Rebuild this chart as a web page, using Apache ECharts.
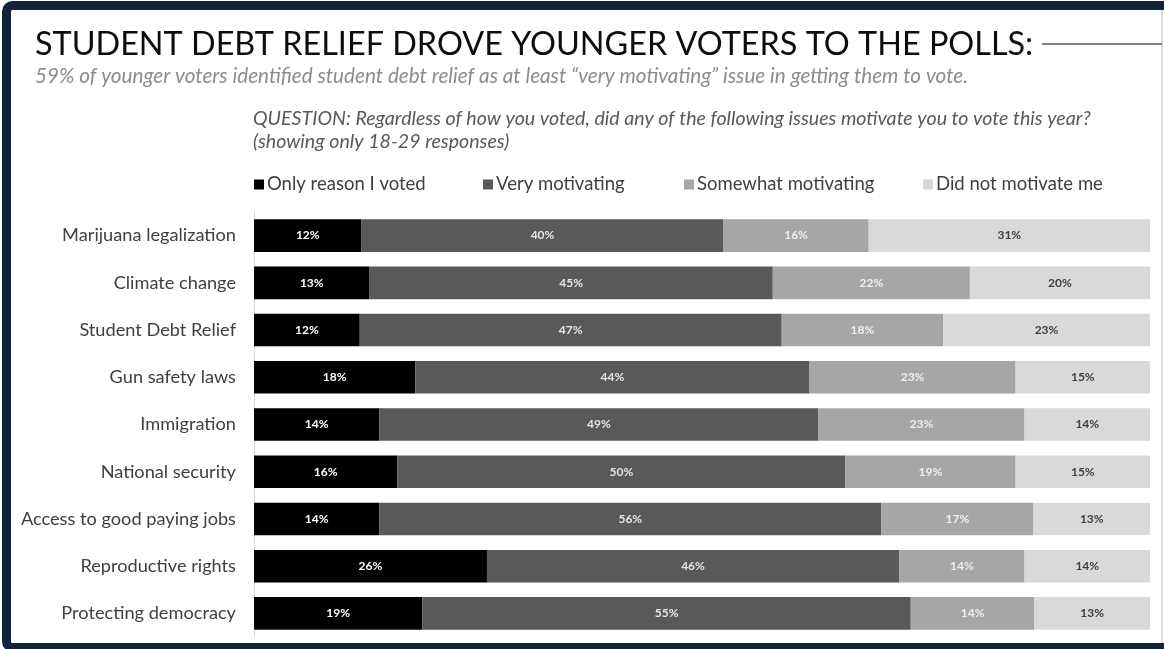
<!DOCTYPE html>
<html><head><meta charset="utf-8">
<script src="https://cdn.jsdelivr.net/npm/echarts@6/dist/echarts.min.js"></script>
<style>html,body{margin:0;padding:0;background:#fff}#c{width:1164px;height:649px}</style>
</head><body><div id="c"></div>
<script>
const categories = ["Marijuana legalization","Climate change","Student Debt Relief","Gun safety laws","Immigration","National security","Access to good paying jobs","Reproductive rights","Protecting democracy"];
const seriesNames = ["Only reason I voted","Very motivating","Somewhat motivating","Did not motivate me"];
const onlyReason   = [12.0, 12.9, 11.8, 18.0, 14.0, 16.0, 14.0, 26.0, 18.8];
const veryMotiv    = [40.4, 45.0, 47.1, 44.0, 49.0, 50.0, 56.0, 46.0, 54.5];
const somewhatMot  = [16.2, 22.0, 18.0, 23.0, 23.0, 19.0, 17.0, 14.0, 13.8];
const notMotivate  = [31.4, 20.1, 23.1, 15.0, 14.0, 15.0, 13.0, 14.0, 12.9];

const FONT = 'Lato';
const colors = ['#000000','#595959','#a6a6a6','#d9d9d9'];
const labelColors = ['#ffffff','#e6e6e6','#eeeeee','#3f3f3f'];
const seriesData = [onlyReason, veryMotiv, somewhatMot, notMotivate];

const chart = echarts.init(document.getElementById('c'), null, {renderer:'canvas'});

const legendLefts = [249, 478, 679, 918];
const legends = seriesNames.map((n,i)=>({
  data:[n], left: legendLefts[i], top: 170, icon:'rect', itemWidth:10, itemHeight:10, itemGap:4,
  selectedMode:false,
  textStyle:{fontFamily:FONT, fontSize:18.5, color:'#404040', padding:[0,0,0,-2]}
}));

chart.setOption({
  animation:false,
  backgroundColor:'#ffffff',
  legend: legends,
  grid:{left:254, right:14, top:212, bottom:12, containLabel:false},
  xAxis:{type:'value', min:0, max:100, show:false},
  yAxis:{type:'category', data:categories, inverse:true,
    axisLine:{show:true, lineStyle:{color:'#d9d9d9', width:1}},
    axisTick:{show:false},
    axisLabel:{margin:18, fontFamily:FONT, fontSize:18.2, color:'#404040'}
  },
  series: seriesNames.map((n,i)=>({
    name:n, type:'bar', stack:'total', data:seriesData[i], barCategoryGap:'31%',
    itemStyle:{color:colors[i]},
    label:{show:true, position:'inside', formatter:p=>Math.round(p.value)+'%',
      fontFamily:FONT, fontSize:12, fontWeight:'bold', color:labelColors[i]}
  })),
  graphic:[
    {type:'rect', shape:{x:6.5, y:5.5, width:1300, height:642, r:6}, style:{fill:'none', stroke:'#13233c', lineWidth:9}, silent:true},
    {type:'line', shape:{x1:1162, y1:10, x2:1162, y2:643}, style:{stroke:'#cfcfcf', lineWidth:1.5}, silent:true},
    {type:'text', left:35, top:29, style:{text:'STUDENT DEBT RELIEF DROVE YOUNGER VOTERS TO THE POLLS:', font:'32.4px Lato', fill:'#0d0d0d'}},
    {type:'line', shape:{x1:1042, y1:44, x2:1162, y2:44}, style:{stroke:'#5a5a5a', lineWidth:1.5}, silent:true},
    {type:'text', left:35, top:66, style:{text:'59% of younger voters identified student debt relief as at least \u201cvery motivating\u201d issue in getting them to vote.', font:'italic 20.7px Lato', fill:'#8c8c8c'}},
    {type:'text', left:253, top:109, style:{text:'QUESTION: Regardless of how you voted, did any of the following issues motivate you to vote this year?', font:'italic 19.6px Lato', fill:'#595959'}},
    {type:'text', left:253, top:132, style:{text:'(showing only 18-29 responses)', font:'italic 19.6px Lato', fill:'#595959'}}
  ]
});
</script></body></html>
